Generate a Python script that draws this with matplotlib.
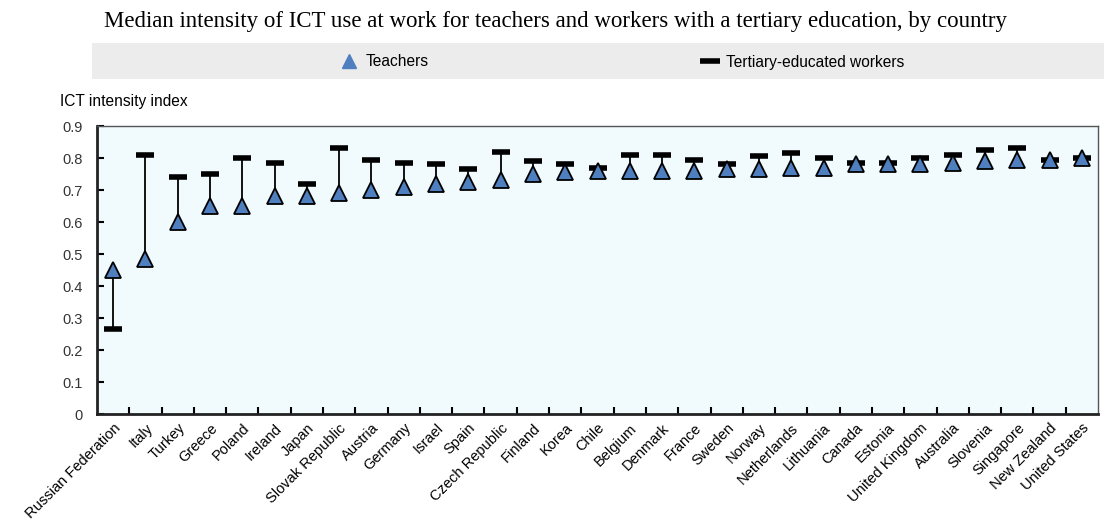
import matplotlib.pyplot as plt
import matplotlib.patches as patches
from matplotlib.lines import Line2D
import numpy as np

countries = ['Russian Federation', 'Italy', 'Turkey', 'Greece', 'Poland', 'Ireland', 'Japan',
             'Slovak Republic', 'Austria', 'Germany', 'Israel', 'Spain', 'Czech Republic',
             'Finland', 'Korea', 'Chile', 'Belgium', 'Denmark', 'France', 'Sweden', 'Norway',
             'Netherlands', 'Lithuania', 'Canada', 'Estonia', 'United Kingdom', 'Australia',
             'Slovenia', 'Singapore', 'New Zealand', 'United States']
teachers = [0.45, 0.485, 0.60, 0.65, 0.65, 0.68, 0.68, 0.69, 0.70, 0.71, 0.72, 0.725, 0.73,
            0.75, 0.755, 0.76, 0.76, 0.76, 0.76, 0.765, 0.765, 0.77, 0.77, 0.78, 0.78, 0.78,
            0.785, 0.79, 0.795, 0.795, 0.80]
tertiary = [0.265, 0.81, 0.74, 0.75, 0.80, 0.785, 0.72, 0.83, 0.795, 0.785, 0.78, 0.765, 0.82,
            0.79, 0.78, 0.77, 0.81, 0.81, 0.795, 0.78, 0.805, 0.815, 0.80, 0.785, 0.785, 0.80,
            0.81, 0.825, 0.83, 0.795, 0.80]
yticks = [0, 0.1, 0.2, 0.3, 0.4, 0.5, 0.6, 0.7, 0.8, 0.9]

blue = '#4f7fbf'
sans = 'Liberation Sans'

fig = plt.figure(figsize=(11.04, 5.24), dpi=100)
ax = fig.add_axes([97/1104, 1 - 414/524, 1001/1104, 288/524])
ax.set_facecolor('#f1fafd')

x = np.arange(len(countries))
ax.vlines(x, teachers, tertiary, color='black', linewidth=1.3, zorder=2)
ax.plot(x, tertiary, linestyle='none', marker='_', markersize=13, markeredgewidth=4,
        color='black', zorder=3)
ax.plot(x, teachers, linestyle='none', marker='^', markersize=12, markerfacecolor=blue,
        markeredgecolor='black', markeredgewidth=1.3, zorder=4)

ax.set_xlim(-0.5, len(countries) - 0.5)
ax.set_ylim(0, 0.9)
ax.set_xticks(x)
ax.set_xticklabels(countries, rotation=45, ha='right', rotation_mode='anchor',
                   fontsize=10.5, family=sans)
ax.tick_params(axis='x', which='major', length=0, pad=5)
ax.set_xticks(np.arange(0.5, len(countries) - 0.5, 1), minor=True)
ax.tick_params(axis='x', which='minor', direction='in', length=5, width=1.5)
ax.set_yticks(yticks)
ax.set_yticklabels([f'{v:g}' for v in yticks], fontsize=10.5, family=sans, color='#333333')
ax.tick_params(axis='y', direction='in', length=5, width=1.5, pad=10)

for side in ['left', 'bottom']:
    ax.spines[side].set_linewidth(2)
    ax.spines[side].set_color('#222222')
for side in ['top', 'right']:
    ax.spines[side].set_linewidth(1)
    ax.spines[side].set_color('#555555')

fig.text(60/1104, 1 - 102/524, 'ICT intensity index', fontsize=11.2, family=sans, va='center')
fig.text(556/1104, 1 - 21/524,
         'Median intensity of ICT use at work for teachers and workers with a tertiary education, by country',
         fontsize=16.5, family='Liberation Serif', ha='center', va='center')

# grey legend band
fig.patches.append(patches.Rectangle((92/1104, 1 - 79/524), 1012/1104, 36/524,
                                     transform=fig.transFigure, facecolor='#ececec',
                                     edgecolor='none', zorder=0))
handles = [Line2D([], [], linestyle='none', marker='^', markersize=10, markerfacecolor=blue,
                  markeredgecolor=blue),
           Line2D([], [], linestyle='none', marker='_', markersize=14, markeredgewidth=4,
                  color='black')]
fig.legend(handles, ['Teachers', 'Tertiary-educated workers'], loc='center',
           bbox_to_anchor=(622/1104, 1 - 62/524), ncol=2, frameon=False,
           prop={'family': sans, 'size': 11.2}, columnspacing=17.5, handlelength=1.2,
           handletextpad=0.45)

fig.savefig('out.png', dpi=100)
